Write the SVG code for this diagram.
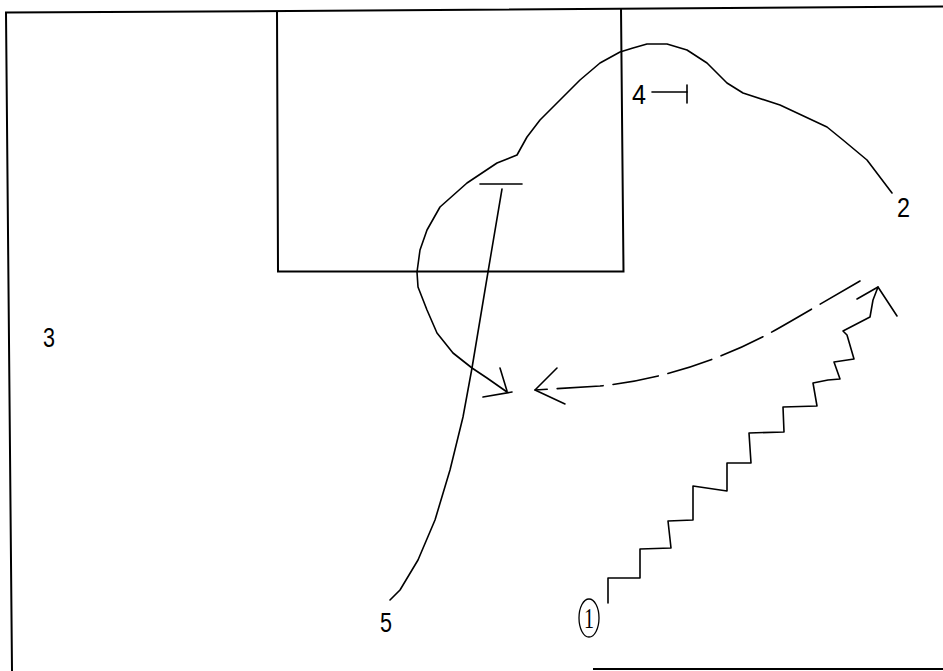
<svg xmlns="http://www.w3.org/2000/svg" width="943" height="671" viewBox="0 0 943 671">
<style>
.ln{fill:none;stroke:#000;stroke-width:1.6;stroke-linejoin:round;stroke-linecap:round}
.bd{fill:none;stroke:#000;stroke-width:2}
.lbl{font-family:"Liberation Sans",Arial,sans-serif;font-size:28px;fill:#000}
.ser{font-family:"Liberation Serif","Times New Roman",serif;font-size:29px;fill:#000}
</style>
<rect width="943" height="671" fill="#fff"/>
<g id="court">
<polyline class="bd" points="943,6.5 290,11 6,12.5 12,671"/>
<line class="bd" x1="593" y1="669" x2="943" y2="669"/>
<polyline class="bd" points="277,11 278,271.5 623.5,271.5 621,8"/>
</g>
<g id="connectors">
<polyline id="cut2" class="ln" points="892,193 867,160 843,140 827,127 780,105 743,93 727,83 707,63 687,50 667,44 647,44 633,48 620,52 600,63 580,80 560,100 540,120 527,137 517,155 497,163 467,183 440,207 427,230 420,250 417,272 418,287 427,310 437,333 453,353 472,368 487,378 507,392"/>
<polyline class="ln" points="500,368 507,391"/>
<polyline class="ln" points="483,397 512,392"/>
<polyline id="screen5" class="ln" points="502,189 488,272 472,368 463,417 450,470 435,520 418,560 400,590 390,600"/>
<line class="ln" x1="480" y1="184" x2="522" y2="184"/>
<path id="pass" class="ln" d="M860,281 C820,304 790,322 770,333 C720,360 660,380 600,386 L535,390" stroke-dasharray="46,10"/>
<polyline class="ln" points="557,368 535,390 565,404"/>
<polyline id="dribble1" class="ln" points="608,603 608,578 640,578 640,549 671,548 668,521 693,520 693,486 727,491 727,463 751,463 749,433 784,432 783,407 817,406 813,383 828,380 840,379 834,362 854,359 847,335 843,331 870,317 873,300 878,287"/>
<polyline class="ln" points="857,299 878,287 897,316"/>
<polyline id="screen4" class="ln" points="652,92 687,92"/>
<line class="ln" x1="687" y1="85" x2="687" y2="103"/>
</g>
<g id="p1">
<ellipse cx="589" cy="618" rx="10" ry="19" fill="none" stroke="#000" stroke-width="1.3"/>
<text class="ser" x="584" y="628" textLength="10" lengthAdjust="spacingAndGlyphs">1</text>
</g>
<g id="p2"><text class="lbl" x="897" y="217" textLength="13" lengthAdjust="spacingAndGlyphs">2</text></g>
<g id="p3"><text class="lbl" x="43" y="347" font-size="25" textLength="12" lengthAdjust="spacingAndGlyphs">3</text></g>
<g id="p4"><text class="lbl" x="632" y="104" textLength="14" lengthAdjust="spacingAndGlyphs">4</text></g>
<g id="p5"><text class="lbl" x="380" y="632" textLength="12" lengthAdjust="spacingAndGlyphs">5</text></g>
</svg>
